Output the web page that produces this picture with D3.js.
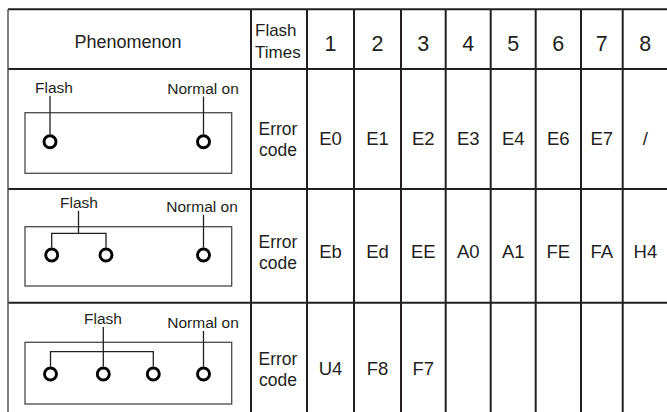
<!DOCTYPE html>
<html><head><meta charset="utf-8">
<script src="https://cdn.jsdelivr.net/npm/d3@7"></script>
<style>
html,body{margin:0;padding:0;background:#fff;}
svg{display:block;font-family:"Liberation Sans",Arial,sans-serif;}
</style></head>
<body>
<svg id="chart" width="667" height="412"></svg>
<script>
// ---------- data ----------
const headerPhenomenon = "Phenomenon";
const headerFlashTimes = ["Flash","Times"];
const flashTimes = ["1","2","3","4","5","6","7","8"];
const rowLabel = ["Error","code"];
const ledFlashCounts = [1, 2, 3];
const ledLabels = ["Flash", "Normal on"];
const codesRow1 = ["E0","E1","E2","E3","E4","E6","E7","/"];
const codesRow2 = ["Eb","Ed","EE","A0","A1","FE","FA","H4"];
const codesRow3 = ["U4","F8","F7","","","","",""];
const errorCodes = [codesRow1, codesRow2, codesRow3];

// ---------- layout ----------
const colEdges = [8, 251, 307, 354, 401, 445.7, 490.7, 535.7, 581, 622.7, 668];
const rowEdges = [9.3, 69, 189, 302.7, 417];
const x = d3.scaleLinear().domain(d3.range(colEdges.length)).range(colEdges);
const y = d3.scaleLinear().domain(d3.range(rowEdges.length)).range(rowEdges);

// diagram geometry per row (offsets from row top)
const diag = [
  {flashLab:[54,24], normLab:[203,24.5], boxTop:43.7, boxBot:104.3, ledY:72.7, leds:[50], flashLead:50, bracketY:null},
  {flashLab:[79,19], normLab:[202,22.7], boxTop:37.7, boxBot:97, ledY:66, leds:[51.7,106], flashLead:78.5, bracketY:44.3},
  {flashLab:[103,21.3], normLab:[203,25.3], boxTop:39.6, boxBot:101.3, ledY:71.3, leds:[50.5,103.3,153.3], flashLead:103.3, bracketY:49}
];
const normalLedX = 203.5;
const boxX0 = 25, boxX1 = 231.7;
const ledR = 6;
const ink = "#231f20";

const svg = d3.select("#chart");
const g = svg.append("g");

// ---------- grid ----------
g.selectAll("line.h").data([0,1,2,3]).join("line")
  .attr("x1", x(0)).attr("x2", 667)
  .attr("y1", d => y(d)).attr("y2", d => y(d))
  .attr("stroke", ink).attr("stroke-width", 2);
g.append("line").attr("x1", x(0)).attr("x2", x(0))
  .attr("y1", y(0)).attr("y2", 412)
  .attr("stroke", "#555").attr("stroke-width", 1.5);
g.selectAll("line.v").data(d3.range(1, 10)).join("line")
  .attr("x1", d => x(d)).attr("x2", d => x(d))
  .attr("y1", y(0)).attr("y2", 412)
  .attr("stroke", ink).attr("stroke-width", 2);

// ---------- header ----------
g.append("text").text(headerPhenomenon)
  .attr("x", (x(0)+x(1))/2 - 1.5).attr("y", 47.7)
  .attr("text-anchor","middle").attr("font-size", 18).attr("fill", ink);
g.selectAll("text.ft").data(headerFlashTimes).join("text")
  .text(d => d)
  .attr("x", x(1) + 4).attr("y", (d,i) => 35.7 + i*22.5)
  .attr("font-size", 17).attr("fill", ink);
g.selectAll("text.num").data(flashTimes).join("text")
  .text(d => d)
  .attr("x", (d,i) => (x(i+2)+x(i+3))/2).attr("y", 50.5)
  .attr("text-anchor","middle").attr("font-size", 21.5).attr("fill", ink);

// ---------- rows ----------
ledFlashCounts.forEach((n, r) => {
  const top = y(r+1);
  const dg = diag[r];
  const row = g.append("g");
  const midBox = top + (dg.boxTop + dg.boxBot)/2;
  row.selectAll("text.rl").data(rowLabel).join("text")
    .text(d => d)
    .attr("x", (x(1)+x(2))/2 - 1).attr("y", (d,i) => midBox - 8 + i*21)
    .attr("text-anchor","middle").attr("font-size", 17.5).attr("fill", ink);
  row.selectAll("text.code").data(errorCodes[r]).join("text")
    .text(d => d)
    .attr("x", (d,i) => (x(i+2)+x(i+3))/2).attr("y", midBox + 1.5)
    .attr("text-anchor","middle").attr("font-size", 18.5).attr("fill", ink);
  row.append("rect")
    .attr("x", boxX0).attr("y", top + dg.boxTop)
    .attr("width", boxX1 - boxX0).attr("height", dg.boxBot - dg.boxTop)
    .attr("fill","none").attr("stroke","#4a4a4a").attr("stroke-width",1.3);
  row.append("text").text(ledLabels[0])
    .attr("x", dg.flashLab[0]).attr("y", top + dg.flashLab[1])
    .attr("text-anchor","middle").attr("font-size",15.5).attr("fill", ink);
  row.append("text").text(ledLabels[1])
    .attr("x", dg.normLab[0]).attr("y", top + dg.normLab[1])
    .attr("text-anchor","middle").attr("font-size",15.5).attr("fill", ink);
  const ledTop = top + dg.ledY - ledR - 1.4;
  const leadStyle = s => s.attr("stroke", ink).attr("stroke-width", 1.3);
  row.append("line").attr("x1", normalLedX).attr("x2", normalLedX)
    .attr("y1", top + dg.normLab[1] + 3).attr("y2", ledTop).call(leadStyle);
  if (dg.bracketY === null) {
    row.append("line").attr("x1", dg.flashLead).attr("x2", dg.flashLead)
      .attr("y1", top + dg.flashLab[1] + 3).attr("y2", ledTop).call(leadStyle);
  } else {
    const by = top + dg.bracketY;
    const lastTarget = n === 3 ? ledTop : by;
    row.append("line").attr("x1", dg.flashLead).attr("x2", dg.flashLead)
      .attr("y1", top + dg.flashLab[1] + 3).attr("y2", lastTarget).call(leadStyle);
    const ends = [dg.leds[0], dg.leds[dg.leds.length-1]];
    row.append("path")
      .attr("d", `M${ends[0]},${ledTop}V${by}H${ends[1]}V${ledTop}`)
      .attr("fill","none").call(leadStyle);
  }
  row.selectAll("circle").data(dg.leds.concat([normalLedX])).join("circle")
    .attr("cx", d => d).attr("cy", top + dg.ledY).attr("r", ledR)
    .attr("fill","#fff").attr("stroke","#000").attr("stroke-width",2.9);
});
</script>
</body></html>
